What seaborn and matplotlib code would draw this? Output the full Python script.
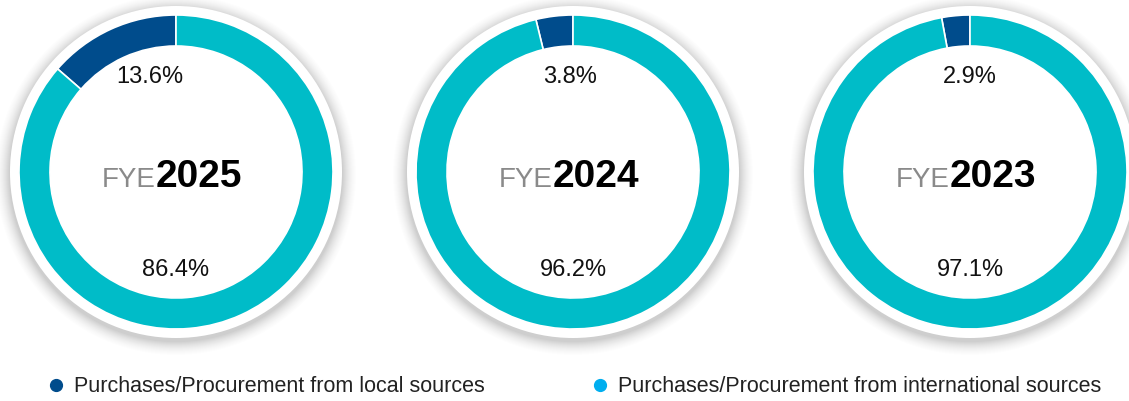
import numpy as np
import seaborn as sns
import matplotlib.pyplot as plt
from matplotlib.patches import Circle
from matplotlib.lines import Line2D

sns.set_theme(style="white")
plt.rcParams['font.family'] = ['Liberation Sans', 'DejaVu Sans']

# Dados
YEARS = ["2025", "2024", "2023"]
LOCAL = [13.6, 3.8, 2.9]
INTERNATIONAL = [86.4, 96.2, 97.1]
LEGEND_LABELS = ["Purchases/Procurement from local sources",
                 "Purchases/Procurement from international sources"]

DARK_BLUE = "#004C8C"
TEAL = "#00BCC8"
LIGHT_BLUE = "#00AEEF"

W, H = 1129, 401
fig = plt.figure(figsize=(W / 100, H / 100), dpi=100)
ax = fig.add_axes([0, 0, 1, 1])

R = 157
RING = 31
centers_x = [176, 573, 970]
cy = 172
# deslocamento do rótulo superior (acompanha a fatia local)
top_dx = [-26, -3, 0]

for i, (year, loc, intl) in enumerate(zip(YEARS, LOCAL, INTERNATIONAL)):
    cx = centers_x[i]
    # sombra suave + anel branco externo
    for k, rr in enumerate(np.linspace(180, 167, 14)):
        ax.add_patch(Circle((cx, cy + 3), rr, color="#000000", alpha=0.006 + 0.0012 * k, lw=0, zorder=1))
    ax.add_patch(Circle((cx, cy), 166, color="white", lw=0, zorder=2))
    # eixo y invertido: começa no topo e gira no sentido anti-horário visual
    wedges, _ = ax.pie([loc, intl], colors=[DARK_BLUE, TEAL], startangle=-90,
                       counterclock=False, radius=R, center=(cx, cy),
                       wedgeprops=dict(width=RING, edgecolor="white", linewidth=1.2))
    for w in wedges:
        w.set_zorder(3)
    ax.text(cx + top_dx[i], cy - 95, f"{loc}%", ha="center", va="center",
            fontsize=17, color="#111111", zorder=4)
    ax.text(cx, cy + 98, f"{intl}%", ha="center", va="center",
            fontsize=17, color="#111111", zorder=4)
    ax.text(cx - 20, cy + 15, "FYE", ha="right", va="baseline", fontsize=20,
            color="#8a8a8a", zorder=4)
    ax.text(cx - 20, cy + 15, year, ha="left", va="baseline", fontsize=28,
            fontweight="bold", color="#000000", zorder=4)

ax.set_xlim(0, W)
ax.set_ylim(H, 0)
ax.set_aspect("equal")
ax.axis("off")

h1 = [Line2D([], [], marker="o", ls="", color=DARK_BLUE, markersize=8.5)]
h2 = [Line2D([], [], marker="o", ls="", color=LIGHT_BLUE, markersize=8.5)]
fig.legend(h1, LEGEND_LABELS[:1], loc="center left", bbox_to_anchor=(24 / W, 1 - 387 / H),
           frameon=False, fontsize=15.5, handletextpad=0.2, handlelength=1.2, labelcolor="#222222")
fig.legend(h2, LEGEND_LABELS[1:], loc="center left", bbox_to_anchor=(568 / W, 1 - 387 / H),
           frameon=False, fontsize=15.5, handletextpad=0.2, handlelength=1.2, labelcolor="#222222")

fig.savefig("out.png", dpi=100)
